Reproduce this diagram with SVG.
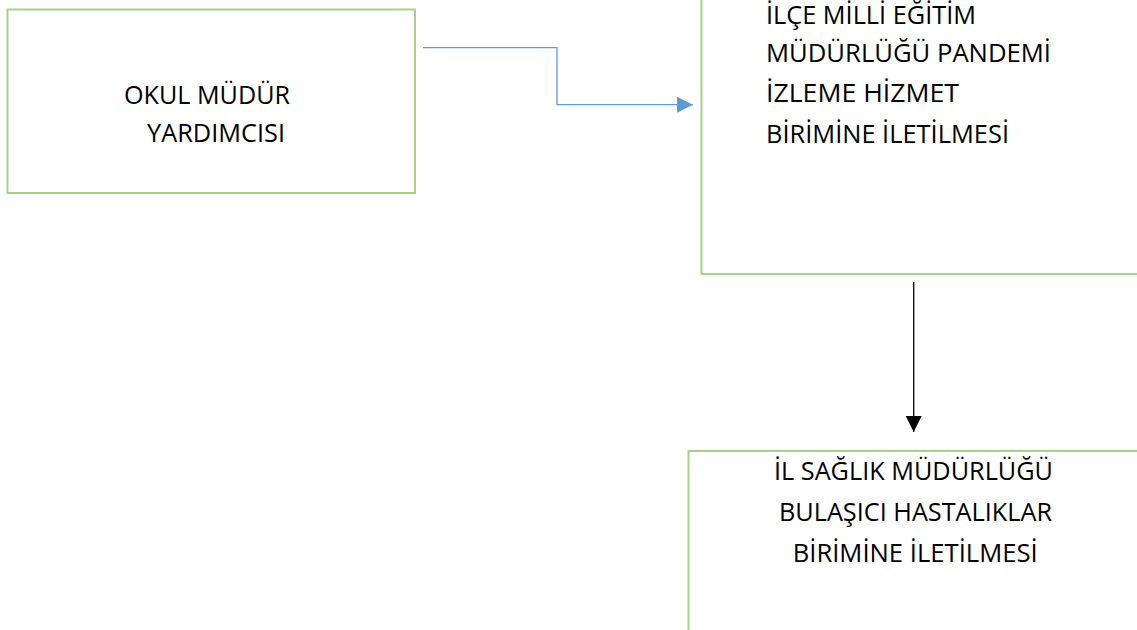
<svg xmlns="http://www.w3.org/2000/svg" width="1137" height="630" viewBox="0 0 1137 630">
<style>
.box{fill:#fff;stroke:#A9D18E;stroke-width:2}
.t{font-family:"Open Sans","Liberation Sans",sans-serif;font-size:25.3px;fill:#000}
</style>
<defs>
<marker id="ab" viewBox="0 0 16 16" refX="16" refY="8" markerWidth="16" markerHeight="16" markerUnits="userSpaceOnUse" orient="auto"><path d="M0,0L16,8L0,16z" fill="#5B9BD5"/></marker>
<marker id="ak" viewBox="0 0 16 16" refX="16" refY="8" markerWidth="16" markerHeight="16" markerUnits="userSpaceOnUse" orient="auto"><path d="M0,0L16,8L0,16z" fill="#000"/></marker>
</defs>
<rect width="1137" height="630" fill="#fff"/>
<g id="n1">
<rect class="box" x="7.5" y="9.5" width="407.5" height="183.5"/>
<text class="t" x="124" y="104" textLength="166" lengthAdjust="spacingAndGlyphs">OKUL MÜDÜR</text>
<text class="t" x="147" y="141.7" textLength="138" lengthAdjust="spacingAndGlyphs">YARDIMCISI</text>
</g>
<g id="n2">
<rect class="box" x="701.5" y="-10" width="460" height="284"/>
<text class="t" x="766" y="23.5" textLength="210" lengthAdjust="spacingAndGlyphs">İLÇE MİLLİ EĞİTİM</text>
<text class="t" x="766" y="61.7" textLength="285" lengthAdjust="spacingAndGlyphs">MÜDÜRLÜĞÜ PANDEMİ</text>
<text class="t" x="766" y="101.7" textLength="193" lengthAdjust="spacingAndGlyphs">İZLEME HİZMET</text>
<text class="t" x="766" y="142.7" textLength="243" lengthAdjust="spacingAndGlyphs">BİRİMİNE İLETİLMESİ</text>
</g>
<g id="n3">
<rect class="box" x="688.5" y="451" width="470" height="200"/>
<text class="t" x="774" y="480" textLength="279" lengthAdjust="spacingAndGlyphs">İL SAĞLIK MÜDÜRLÜĞÜ</text>
<text class="t" x="779" y="520.7" textLength="273" lengthAdjust="spacingAndGlyphs">BULAŞICI HASTALIKLAR</text>
<text class="t" x="792.7" y="561.7" textLength="245" lengthAdjust="spacingAndGlyphs">BİRİMİNE İLETİLMESİ</text>
</g>
<g id="connectors">
<polyline points="423,47.7 557,47.7 557,104.7 693,104.7" fill="none" stroke="#5B9BD5" stroke-width="1.3" marker-end="url(#ab)"/>
<line x1="913.7" y1="282" x2="913.7" y2="432" stroke="#000" stroke-width="1.3" marker-end="url(#ak)"/>
</g>
</svg>
